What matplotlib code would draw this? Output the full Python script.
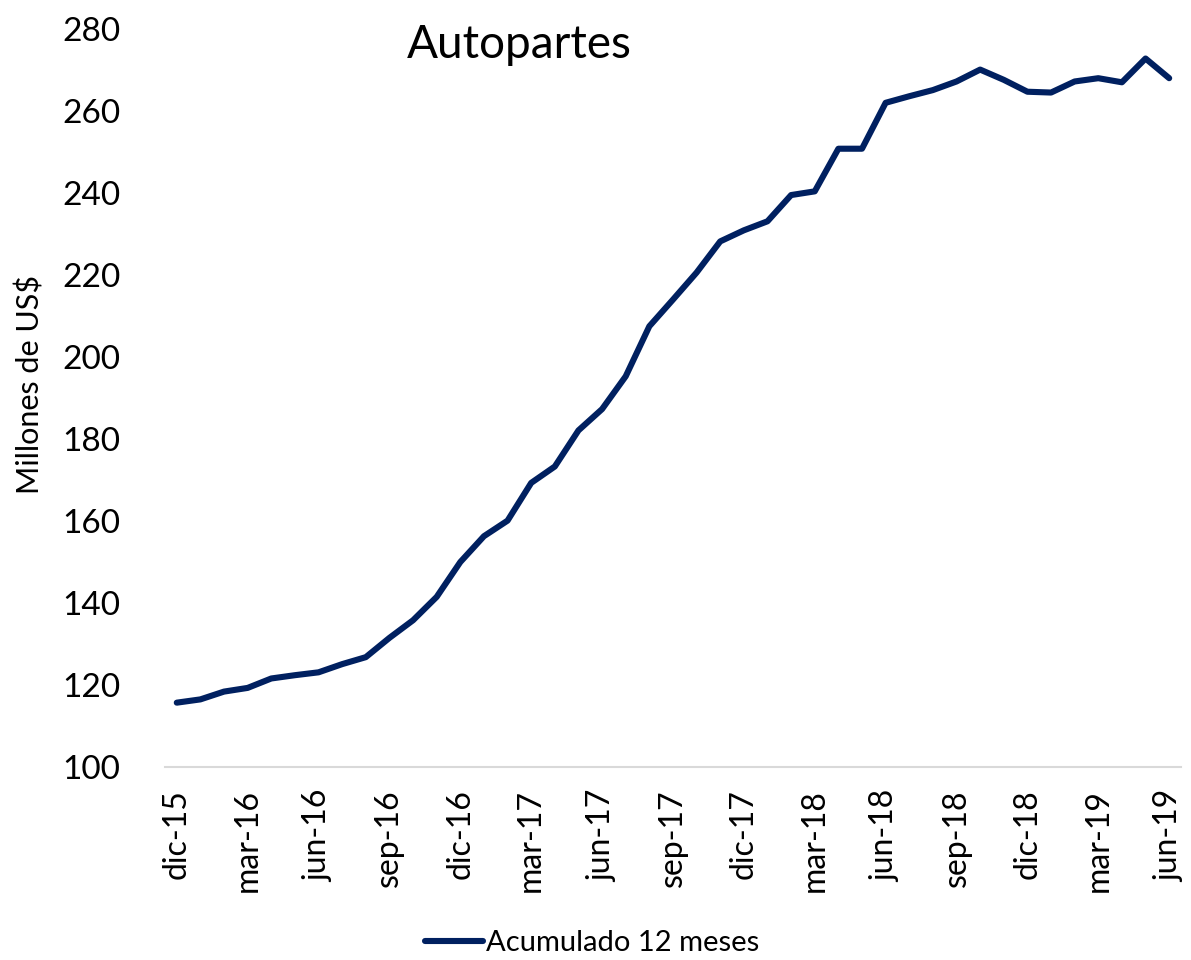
import matplotlib
matplotlib.use("Agg")
import matplotlib.pyplot as plt

plt.rcParams['font.family'] = ['Lato', 'DejaVu Sans']

# Monthly labels, dic-15 .. jun-19 (Spanish abbreviations)
months = ["dic-15", "ene-16", "feb-16", "mar-16", "abr-16", "may-16", "jun-16",
          "jul-16", "ago-16", "sep-16", "oct-16", "nov-16", "dic-16",
          "ene-17", "feb-17", "mar-17", "abr-17", "may-17", "jun-17",
          "jul-17", "ago-17", "sep-17", "oct-17", "nov-17", "dic-17",
          "ene-18", "feb-18", "mar-18", "abr-18", "may-18", "jun-18",
          "jul-18", "ago-18", "sep-18", "oct-18", "nov-18", "dic-18",
          "ene-19", "feb-19", "mar-19", "abr-19", "may-19", "jun-19"]

# 12-month rolling total, millions of US$
acumulado_12m = [115.7, 116.5, 118.4, 119.3, 121.6, 122.4, 123.1,
                 125.1, 126.8, 131.5, 135.8, 141.5, 150.0,
                 156.3, 160.1, 169.3, 173.3, 182.1, 187.3,
                 195.3, 207.5, 214.0, 220.6, 228.2, 230.9,
                 233.1, 239.5, 240.4, 250.8, 250.8, 262.0,
                 263.6, 265.1, 267.2, 270.1, 267.6, 264.7,
                 264.5, 267.2, 268.0, 267.0, 272.8, 268.0]

y_ticks = [100, 120, 140, 160, 180, 200, 220, 240, 260, 280]

title = "Autopartes"
y_label = "Millones de US$"
series_name = "Acumulado 12 meses"

fig = plt.figure(figsize=(11.91, 9.60), dpi=100)
ax = fig.add_axes([0.1385, 0.2010, 0.8531, 0.7688])

x = list(range(len(months)))
ax.plot(x, acumulado_12m, color="#002060", linewidth=4.4,
        solid_capstyle="round", solid_joinstyle="round", label=series_name)

ax.set_xlim(-0.5, len(months) - 0.5)
ax.set_ylim(y_ticks[0], y_ticks[-1])
ax.set_yticks(y_ticks)
ax.set_xticks(x[::3])
ax.set_xticklabels(months[::3], rotation=90, va="top", ha="center")

for side in ("left", "right", "top"):
    ax.spines[side].set_visible(False)
ax.spines["bottom"].set_color("#d9d9d9")
ax.spines["bottom"].set_linewidth(1.5)

ax.tick_params(axis="y", length=0, pad=32, labelsize=24, labelcolor="black")
ax.tick_params(axis="x", length=0, pad=16, labelsize=23, labelcolor="black")

fig.text(0.0252, 0.6, y_label, rotation=90, ha="center", va="center", fontsize=22)
fig.text(0.436, 0.953, title, ha="center", va="center", fontsize=33)

fig.legend(loc="center", bbox_to_anchor=(0.497, 0.0177), frameon=False,
           fontsize=21, handlelength=2.0, handletextpad=0.1)

fig.savefig("out.png", dpi=100)
